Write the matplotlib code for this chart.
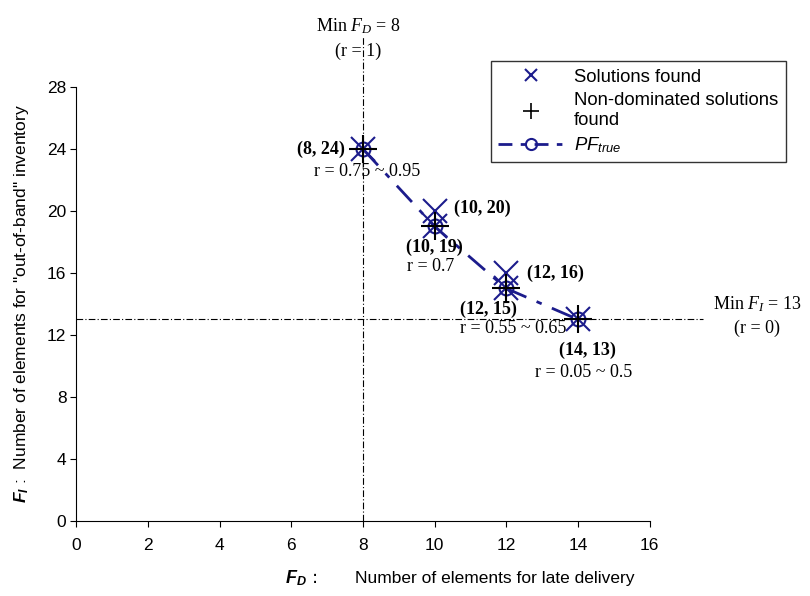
import matplotlib.pyplot as plt
from matplotlib.lines import Line2D

plt.rcParams['mathtext.fontset'] = 'custom'
plt.rcParams['mathtext.rm'] = 'Liberation Serif'
plt.rcParams['mathtext.it'] = 'Liberation Serif:italic'
plt.rcParams['mathtext.sf'] = 'Liberation Sans:italic'
plt.rcParams['mathtext.bf'] = 'Liberation Sans:bold:italic'

# all solutions found by the search
sol_fd = [8, 10, 10, 12, 12, 14]
sol_fi = [24, 20, 19, 16, 15, 13]
# non-dominated subset
nd_fd = [8, 10, 12, 14]
nd_fi = [24, 19, 15, 13]
# true Pareto front
pf_fd = [8, 10, 12, 14]
pf_fi = [24, 19, 15, 13]

point_labels = ['(8, 24)', '(10, 20)', '(10, 19)', '(12, 16)', '(12, 15)', '(14, 13)']
r_labels = ['r = 0.75 ~ 0.95', 'r = 0.7', 'r = 0.55 ~ 0.65', 'r = 0.05 ~ 0.5']

min_fd = 8
min_fi = 13

navy = '#1c1c8c'
sans = 'Liberation Sans'
serif = 'Liberation Serif'

fig = plt.figure(figsize=(8.1, 5.96), dpi=100)
ax = fig.add_axes([0.094, 0.126, 0.708, 0.728])

# reference lines for the single-objective minima
ax.plot([min_fd, min_fd], [0, 31.3], color='black', lw=0.8,
        dashes=(6, 2, 1, 2), clip_on=False)
ax.plot([0, 17.5], [min_fi, min_fi], color='black', lw=0.8,
        dashes=(6, 2, 1, 2), clip_on=False)

ax.plot(pf_fd, pf_fi, color=navy, lw=2, dashes=(8, 4, 2, 4), marker='o',
        ms=10, mfc='none', mec=navy, mew=1.5, zorder=3)
ax.plot(sol_fd, sol_fi, 'x', color=navy, ms=17, mew=1.5, zorder=4)
ax.plot(nd_fd, nd_fi, '+', color='black', ms=20, mew=1.5, zorder=5)

ax.set_xlim(0, 16)
ax.set_ylim(0, 28)
ax.set_xticks(range(0, 17, 2))
ax.set_yticks(range(0, 29, 4))
ax.spines['top'].set_visible(False)
ax.spines['right'].set_visible(False)
ax.tick_params(direction='out', length=4, labelsize=12.5)
ax.tick_params(axis='x', pad=8)
ax.tick_params(axis='y', pad=3)
for t in ax.get_xticklabels() + ax.get_yticklabels():
    t.set_family(sans)

# coordinate labels beside each point
lbl = dict(family=serif, fontsize=13, fontweight='bold',
           textcoords='offset points', va='center')
ax.annotate(point_labels[0], (sol_fd[0], sol_fi[0]), xytext=(-13, 0),
            ha='right', **lbl)
ax.annotate(point_labels[1], (sol_fd[1], sol_fi[1]), xytext=(14, 2),
            ha='left', **lbl)
ax.annotate(point_labels[2], (sol_fd[2], sol_fi[2]), xytext=(0, -15),
            ha='center', **lbl)
ax.annotate(point_labels[3], (sol_fd[3], sol_fi[3]), xytext=(15, 0),
            ha='left', **lbl)
ax.annotate(point_labels[4], (sol_fd[4], sol_fi[4]), xytext=(-13, -15),
            ha='center', **lbl)
ax.annotate(point_labels[5], (sol_fd[5], sol_fi[5]), xytext=(7, -22),
            ha='center', **lbl)

rl = dict(family=serif, fontsize=13, textcoords='offset points',
          ha='center', va='center')
ax.annotate(r_labels[0], (nd_fd[0], nd_fi[0]), xytext=(3, -16), **rl)
ax.annotate(r_labels[1], (nd_fd[1], nd_fi[1]), xytext=(-3, -29), **rl)
ax.annotate(r_labels[2], (nd_fd[2], nd_fi[2]), xytext=(5, -29), **rl)
ax.annotate(r_labels[3], (nd_fd[3], nd_fi[3]), xytext=(4, -38), **rl)

ax.text(min_fd - 0.12, 31.9, r'Min $F_D$ = %d' % min_fd, family=serif,
        fontsize=13, ha='center', va='center')
ax.text(min_fd - 0.12, 30.3, '(r = 1)', family=serif, fontsize=13,
        ha='center', va='center')
ax.text(19.0, min_fi + 1.0, r'Min $F_I$ = %d' % min_fi, family=serif,
        fontsize=13, ha='center', va='center', clip_on=False)
ax.text(19.0, min_fi - 0.6, '(r = 0)', family=serif, fontsize=13,
        ha='center', va='center')

# axis titles
fig.text(0.352, 0.03, r'$\mathbf{F}_{\mathbf{D}}$ :', fontsize=13,
         ha='left', va='center')
fig.text(0.438, 0.03, 'Number of elements for late delivery', family=sans,
         fontsize=12.5, ha='left', va='center')
fig.text(0.027, 0.49, r'$\mathbf{F}_{\mathbf{I}}$ :  Number of elements for "out-of-band" inventory',
         family=sans, fontsize=12.5, rotation=90, ha='center', va='center')

handles = [
    Line2D([], [], ls='none', marker='x', color=navy, ms=9, mew=1.5),
    Line2D([], [], ls='none', marker='+', color='black', ms=11, mew=1.2),
    Line2D([], [], color=navy, lw=2, dashes=(5, 3, 2, 3), marker='o',
           ms=8, mfc='none', mec=navy, mew=1.5),
]
labels = ['Solutions found', 'Non-dominated solutions\nfound',
          r'$\mathsf{PF}_{\mathsf{true}}$']
leg = fig.legend(handles, labels, loc='upper left',
                 bbox_to_anchor=(0.606, 0.897), prop={'family': sans, 'size': 13.3},
                 frameon=True, fancybox=False, edgecolor='black',
                 handlelength=3.6, labelspacing=0.35, borderpad=0.4,
                 handletextpad=0.5, borderaxespad=0)
leg.get_frame().set_linewidth(1.0)

fig.savefig('out.png', dpi=100)
